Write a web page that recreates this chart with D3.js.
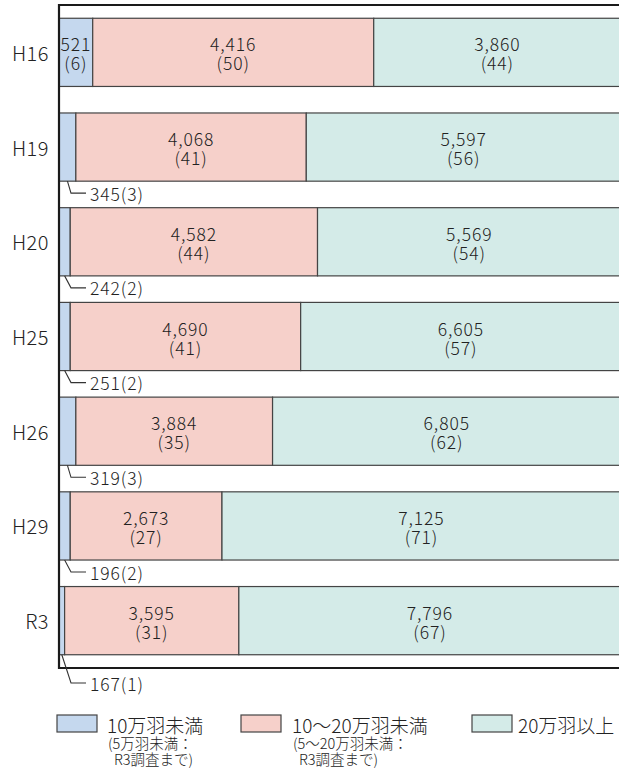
<!DOCTYPE html>
<html><head><meta charset="utf-8">
<script src="https://cdn.jsdelivr.net/npm/d3@7"></script>
<style>
html,body{margin:0;padding:0;background:#fff;}
svg{display:block;font-family:"Noto Sans CJK JP","Noto Sans",sans-serif;font-weight:300;}
</style></head>
<body>
<svg id="chart" width="619" height="770"></svg>
<script>
const categories = ["H16","H19","H20","H25","H26","H29","R3"];
const smallValues = [521,345,242,251,319,196,167];
const smallPct    = [6,3,2,2,3,2,1];
const midValues   = [4416,4068,4582,4690,3884,2673,3595];
const midPct      = [50,41,44,41,35,27,31];
const largeValues = [3860,5597,5569,6605,6805,7125,7796];
const largePct    = [44,56,54,57,62,71,67];
const seriesNames = ["10万羽未満","10～20万羽未満","20万羽以上"];
const seriesNotes = [["(5万羽未満：","R3調査まで)"],["(5～20万羽未満：","R3調査まで)"],[]];
const colors = ["#c5d8ee","#f6d0ca","#d4ebe8"];

(function(){
const svg = d3.select("#chart");
const fmt = d3.format(",");
const plotLeft = 59, plotTop = 5, plotBottom = 668;

const x = d3.scaleLinear().domain([0,100]).range([plotLeft, plotLeft + 562]);
const y = d3.scaleBand().domain(categories).range([plotTop, plotBottom]).paddingInner(0.28).paddingOuter(0.14);

const rows = categories.map((c,i)=>{
  const vals = [smallValues[i], midValues[i], largeValues[i]];
  const pcts = [smallPct[i], midPct[i], largePct[i]];
  let acc = 0;
  const segs = pcts.map((p,k)=>{
    const s = {k, x0: acc, x1: acc + p, v: vals[k], p};
    acc += p;
    return s;
  });
  segs[2].x1 = 100;
  return {c, i, segs};
});

const g = svg.append("g");
rows.forEach(r=>{
  const by = y(r.c), bh = y.bandwidth();
  r.segs.forEach(s=>{
    g.append("rect")
      .attr("x", x(s.x0)).attr("y", by)
      .attr("width", x(s.x1) - x(s.x0)).attr("height", bh)
      .attr("fill", colors[s.k]).attr("stroke", "#444").attr("stroke-width", 1.2);
  });
});

svg.append("path")
  .attr("d", `M619,${plotTop}H${plotLeft}V${plotBottom}H619`)
  .attr("fill","none").attr("stroke","#1a1a1a").attr("stroke-width",2.2);

svg.append("g").selectAll("text").data(categories).join("text")
  .attr("x", 49).attr("y", d=>y(d)+y.bandwidth()/2)
  .attr("text-anchor","end").attr("dominant-baseline","central")
  .attr("font-size", 20).attr("letter-spacing", 0.5).attr("fill","#222").text(d=>d);

rows.forEach((r,ri)=>{
  const by = y(r.c), bh = y.bandwidth(), cy = by + bh/2;
  r.segs.forEach(s=>{
    if (s.p >= 5) {
      const cx = (x(s.x0) + x(s.x1))/2;
      const t = svg.append("text").attr("text-anchor","middle")
        .attr("font-size",17.5).attr("letter-spacing",0.9).attr("fill","#222");
      t.append("tspan").attr("x",cx).attr("y",cy-8.5).attr("dominant-baseline","central").text(fmt(s.v));
      t.append("tspan").attr("x",cx).attr("y",cy+10.5).attr("dominant-baseline","central").text(`(${s.p})`);
    } else {
      const sx = (x(s.x0)+x(s.x1))/2;
      const sy = by + bh;
      const ly = (ri === rows.length-1) ? plotBottom + 15 : sy + 12;
      const kx = 71;
      svg.append("path")
        .attr("d", `M${sx},${sy}L${kx},${ly}H86`)
        .attr("fill","none").attr("stroke","#333").attr("stroke-width",1.1);
      svg.append("text").attr("x",90).attr("y",ly)
        .attr("dominant-baseline","central").attr("font-size",17.5).attr("letter-spacing",0.9).attr("fill","#222")
        .text(`${s.v}(${s.p})`);
    }
  });
});

const legX = [57, 241, 472];
const legTextX = [107, 292, 518];
seriesNames.forEach((n,k)=>{
  svg.append("rect").attr("x",legX[k]).attr("y",715).attr("width",40).attr("height",17)
    .attr("fill",colors[k]).attr("stroke","#444").attr("stroke-width",1.2);
  svg.append("text").attr("x",legTextX[k]).attr("y",724).attr("dominant-baseline","central")
    .attr("font-size",19).attr("fill","#222").text(n);
  seriesNotes[k].forEach((line,j)=>{
    svg.append("text").attr("x",legTextX[k] + (j===0?1:7)).attr("y",742 + j*16.5)
      .attr("dominant-baseline","central").attr("font-size",14.5).attr("fill","#222").text(line);
  });
});
})();
</script>
</body></html>
